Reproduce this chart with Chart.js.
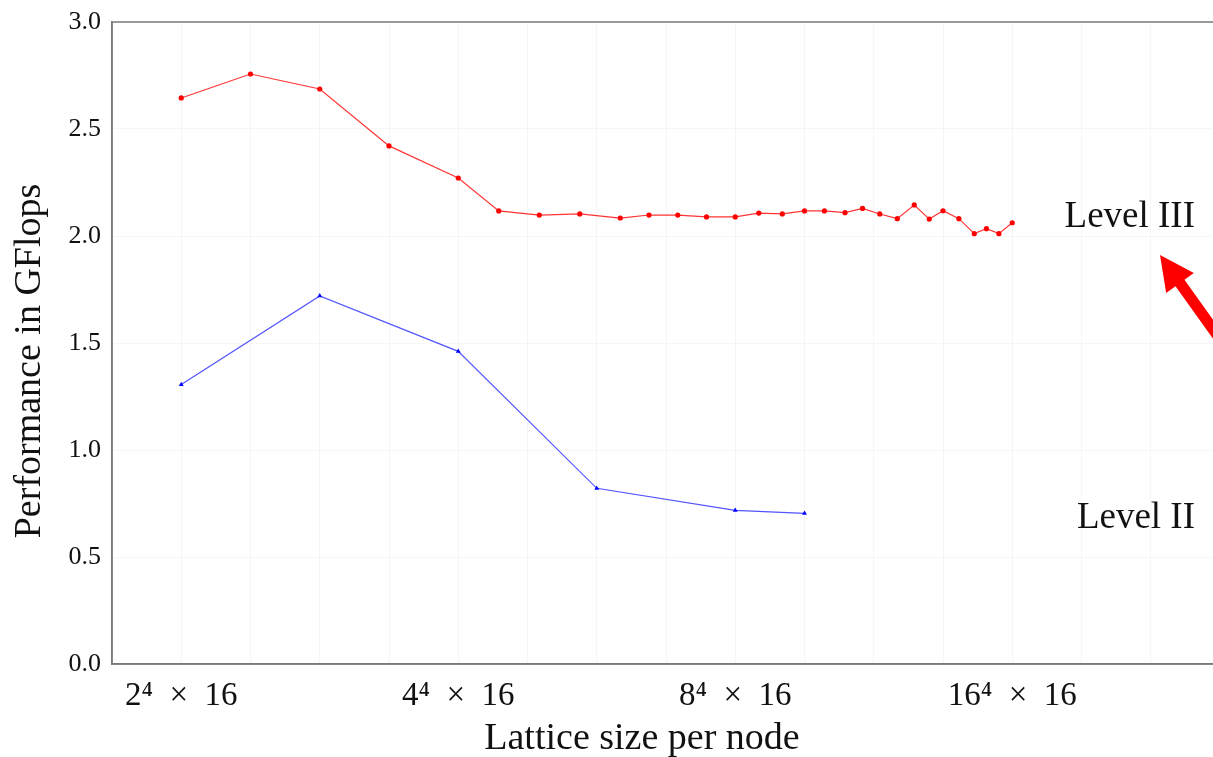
<!DOCTYPE html>
<html>
<head>
<meta charset="utf-8">
<script src="https://cdn.jsdelivr.net/npm/chart.js@4.4.0/dist/chart.umd.min.js"></script>
<style>
html, body { margin: 0; padding: 0; background: #fff; overflow: hidden; }
#wrap { width: 1213px; height: 757px; overflow: hidden; }
#chart { display: block; }
</style>
</head>
<body>
<div id="wrap"><canvas id="chart" width="1230" height="757"></canvas></div>
<script>
'use strict';

// lattice volume per node (L^4, times 16 in time)
var level3Sizes = [16, 32, 64, 128, 256, 384, 576, 864, 1296, 1728, 2304, 3072, 4096,
    5184, 6561, 8192, 10000, 12288, 14641, 17400, 20736, 24576, 28561, 32768, 38416,
    44800, 50625, 57344, 65536];
var level3Perf = [2.645, 2.757, 2.687, 2.421, 2.271, 2.117, 2.098, 2.103, 2.084, 2.098,
    2.098, 2.089, 2.089, 2.107, 2.103, 2.117, 2.117, 2.109, 2.129, 2.103, 2.081, 2.145,
    2.079, 2.118, 2.081, 2.011, 2.034, 2.011, 2.062];

var level2Sizes = [16, 64, 256, 1024, 4096, 8192];
var level2Perf = [1.306, 1.720, 1.461, 0.821, 0.718, 0.704];

var xTickValues = [16, 256, 4096, 65536];
var xTickLabels = ['2\u2074\u2002\u00d7\u200216', '4\u2074\u2002\u00d7\u200216',
    '8\u2074\u2002\u00d7\u200216', '16\u2074\u2002\u00d7\u200216'];
var yTickLabels = ['0.0', '0.5', '1.0', '1.5', '2.0', '2.5', '3.0'];

var serif = "'Liberation Serif', 'DejaVu Serif', serif";

// faint grid line at every power of two of the volume
var gridVolumes = [];
for (var v = 8; v <= 524288; v *= 2) {
    gridVolumes.push(v);
}

function toPoints(xs, ys) {
    return xs.map(function (x, i) { return { x: x, y: ys[i] }; });
}

var extras = {
    id: 'extras',
    afterDraw: function (chart) {
        var ctx = chart.ctx;
        var area = chart.chartArea;
        ctx.save();

        // closed frame round the plot
        ctx.strokeStyle = '#7a7a7a';
        ctx.lineWidth = 1.5;
        ctx.strokeRect(area.left, area.top, area.right - area.left, area.bottom - area.top);

        ctx.fillStyle = '#111';
        ctx.font = '38px ' + serif;
        ctx.textAlign = 'center';
        ctx.textBaseline = 'alphabetic';
        ctx.fillText('Lattice size per node', 642, 749);

        ctx.save();
        ctx.translate(40, 361);
        ctx.rotate(-Math.PI / 2);
        ctx.fillText('Performance in GFlops', 0, 0);
        ctx.restore();

        ctx.font = '37px ' + serif;
        ctx.textAlign = 'right';
        ctx.fillText('Level III', 1195, 227);
        ctx.fillText('Level II', 1195, 528);

        // red arrow pointing at the Level III label
        var tip = { x: 1160, y: 255 };
        var base = { x: 1180, y: 283 };
        var dx = 0.581, dy = 0.814;
        var nx = 0.814, ny = -0.581;
        var headHalf = 17, shaftHalf = 5.5, shaftLen = 160;
        ctx.fillStyle = '#ff0000';
        ctx.beginPath();
        ctx.moveTo(tip.x, tip.y);
        ctx.lineTo(base.x + nx * headHalf, base.y + ny * headHalf);
        ctx.lineTo(base.x + nx * shaftHalf, base.y + ny * shaftHalf);
        ctx.lineTo(base.x + dx * shaftLen + nx * shaftHalf, base.y + dy * shaftLen + ny * shaftHalf);
        ctx.lineTo(base.x + dx * shaftLen - nx * shaftHalf, base.y + dy * shaftLen - ny * shaftHalf);
        ctx.lineTo(base.x - nx * shaftHalf, base.y - ny * shaftHalf);
        ctx.lineTo(base.x - nx * headHalf, base.y - ny * headHalf);
        ctx.closePath();
        ctx.fill();

        ctx.restore();
    }
};

var ctx = document.getElementById('chart').getContext('2d');
var chart = new Chart(ctx, {
    type: 'line',
    data: {
        datasets: [{
            label: 'Level III',
            data: toPoints(level3Sizes, level3Perf),
            borderColor: 'rgba(255, 0, 0, 0.8)',
            backgroundColor: '#ff0000',
            borderWidth: 1.2,
            pointStyle: 'circle',
            pointRadius: 2.6,
            pointBorderWidth: 0,
            tension: 0
        }, {
            label: 'Level II',
            data: toPoints(level2Sizes, level2Perf),
            borderColor: 'rgba(40, 40, 255, 0.8)',
            backgroundColor: '#0000ff',
            borderWidth: 1.2,
            pointStyle: 'triangle',
            pointRadius: 2.8,
            pointBorderWidth: 0,
            tension: 0
        }]
    },
    options: {
        responsive: false,
        animation: false,
        layout: { padding: { top: 22, right: 10, left: 0, bottom: 0 } },
        plugins: {
            legend: { display: false },
            tooltip: { enabled: false }
        },
        scales: {
            x: {
                type: 'logarithmic',
                min: 8,
                max: 524288,
                afterBuildTicks: function (scale) {
                    scale.ticks = gridVolumes.map(function (g) { return { value: g }; });
                },
                afterFit: function (scale) {
                    scale.height = 93;
                    scale.paddingLeft = 0;
                    scale.paddingRight = 0;
                },
                grid: { color: 'rgba(0, 0, 0, 0.035)', drawTicks: false },
                border: { display: true, color: '#7a7a7a', width: 1.5 },
                ticks: {
                    autoSkip: false,
                    maxRotation: 0,
                    padding: 13,
                    color: '#111',
                    font: { family: serif, size: 33 },
                    callback: function (value) {
                        var i = xTickValues.indexOf(value);
                        return i >= 0 ? xTickLabels[i] : '';
                    }
                }
            },
            y: {
                type: 'linear',
                min: 0,
                max: 3,
                afterFit: function (scale) {
                    scale.width = 112;
                    scale.paddingTop = 0;
                    scale.paddingBottom = 0;
                },
                grid: { color: 'rgba(0, 0, 0, 0.035)', drawTicks: false },
                border: { display: true, color: '#7a7a7a', width: 1.5 },
                ticks: {
                    stepSize: 0.5,
                    padding: 11,
                    color: '#111',
                    font: { family: serif, size: 26 },
                    callback: function (value) {
                        return yTickLabels[Math.round(value * 2)];
                    }
                }
            }
        }
    },
    plugins: [extras]
});
</script>
</body>
</html>
